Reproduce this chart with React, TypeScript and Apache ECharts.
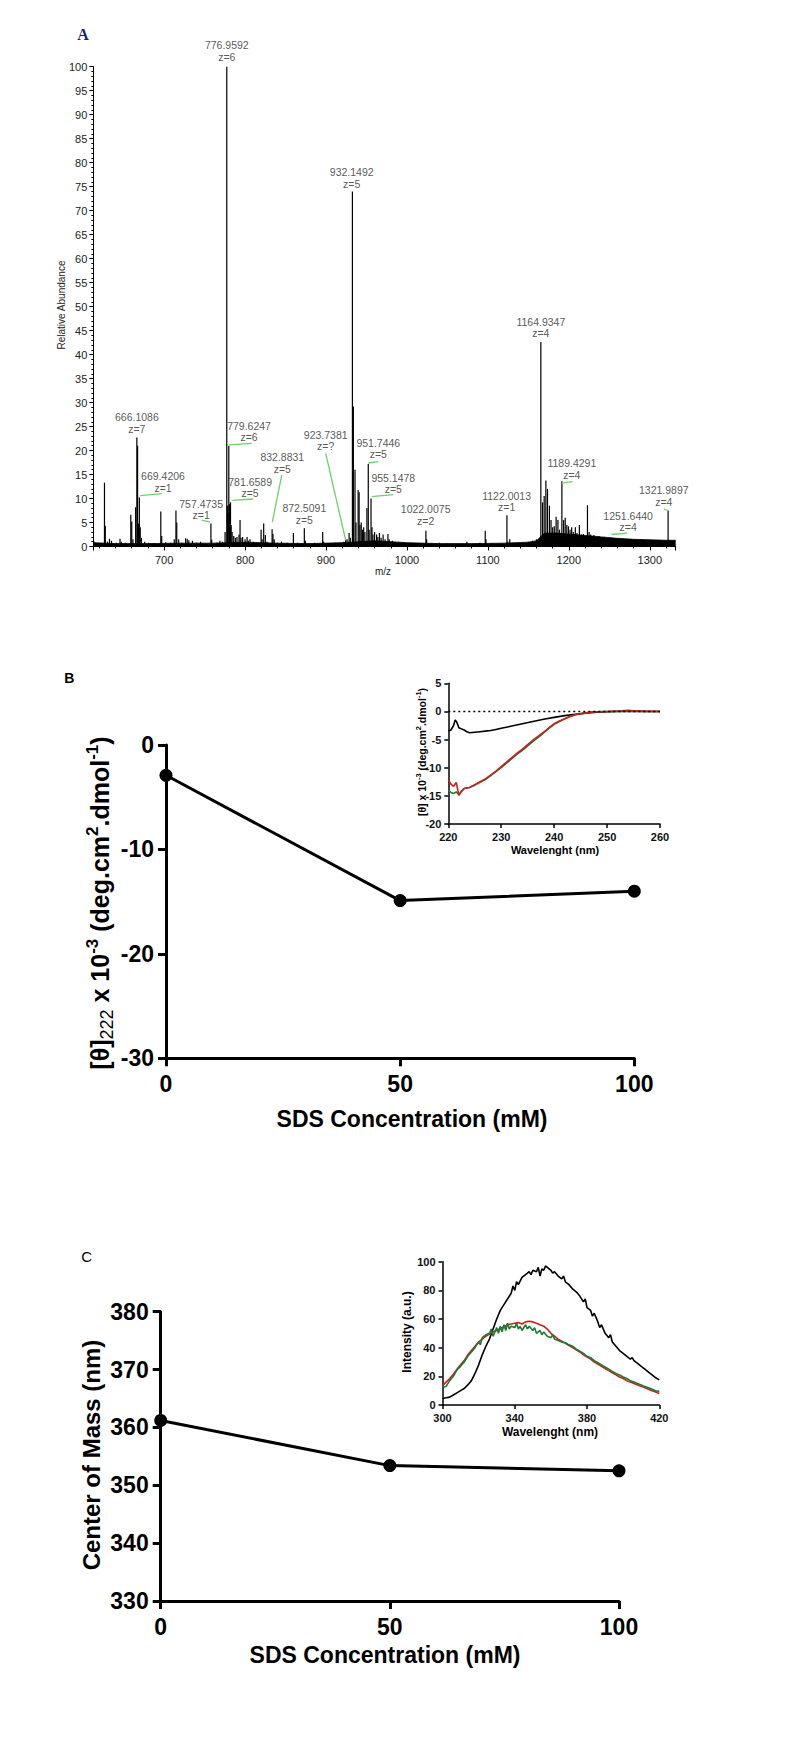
import React, { useEffect, useRef } from "react";
import * as echarts from "echarts";

const FONT = '"Liberation Sans", Arial, sans-serif';

// ---------- Panel A : mass spectrum ----------
const msPeaks: [number, number][] = [
  [613, 1.2], [615, 0.8], [626.3, 13.3], [627.3, 4.3], [630, 1.0], [632.5, 1.6], [635, 1.2], [641, 0.8],
  [645.5, 1.6], [647, 1.0], [652, 0.8], [658.8, 6.6], [660, 5.2], [661.5, 1.5], [664.8, 8.2], [666.3, 22.7],
  [667.2, 21.0], [668.2, 4.8], [669.4, 10.2], [670.5, 4.0], [672, 1.8], [676, 1.0], [681, 0.8], [688, 0.7],
  [695.9, 7.3], [697, 2.2], [702, 0.9], [708, 0.8], [712.5, 1.5], [714.6, 7.5], [715.6, 5.0], [718, 1.5],
  [722, 0.8], [726.5, 1.7], [728.5, 1.6], [730.5, 1.3], [735, 1.2], [740, 0.8], [745, 1.0], [748, 0.7],
  [757.8, 4.8], [758.8, 1.4], [765, 0.8], [769, 1.2], [772, 1.0], [775.3, 3.0], [777.4, 100], [778.3, 8.5],
  [778.9, 7.0], [779.9, 21.0], [780.6, 8.8], [781.3, 8.0], [782.0, 9.2], [782.8, 4.5], [784, 3.0], [786, 2.2],
  [788, 1.8], [790, 2.0], [792.5, 2.5], [793.8, 5.5], [795, 1.8], [797, 2.0], [800, 1.5], [802.5, 2.0],
  [804, 1.2], [806, 1.5], [810, 1.0], [815, 0.8], [819.8, 3.5], [821, 1.5], [823, 4.8], [825, 2.4],
  [827, 1.0], [833.4, 3.6], [834.5, 2.6], [836, 1.5], [840, 0.8], [845, 1.0], [848, 0.7], [852, 0.8],
  [859.7, 2.8], [865, 0.8], [873.2, 3.8], [874.5, 1.2], [880, 0.7], [886, 0.8], [895.9, 3.0], [897, 1.0],
  [905, 0.6], [912, 0.8], [918, 0.8], [922, 1.0], [924.2, 1.4], [926, 1.5], [928.5, 2.8], [930, 1.8],
  [932.6, 74], [933.8, 29.2], [935.8, 16], [937, 5.0], [939.7, 11.8], [940.9, 11.3], [942, 4.5], [943.5, 5.0],
  [945, 3.5], [946.5, 4.0], [948, 3.0], [950.5, 8.0], [952.2, 17.2], [953.3, 3.5], [955.6, 10.0], [956.8, 4.0],
  [958, 2.5], [960, 3.0], [962.5, 2.5], [964, 2.0], [966, 2.8], [968, 1.8], [970.5, 2.5], [973, 1.5],
  [976.5, 2.6], [978, 1.5], [982, 1.2], [986, 0.8], [990, 0.9], [995, 0.8], [1000, 0.7], [1005, 0.6],
  [1012, 0.7], [1023.4, 3.3], [1024.3, 1.5], [1030, 0.6], [1040, 0.8], [1050, 0.6], [1060, 0.5], [1074, 1.0],
  [1085, 0.6], [1090, 0.8], [1096.7, 3.3], [1097.6, 1.5], [1105, 0.7], [1112, 0.6], [1123.5, 6.5], [1124.4, 1.0],
  [1127, 1.5], [1135, 0.8], [1142, 0.8], [1150, 1.0], [1155, 1.2], [1160, 1.5], [1165.4, 42.6], [1167.5, 9.2],
  [1169.5, 10.5], [1171.6, 13.75], [1173.6, 12.0], [1176, 8.5], [1178, 5.5], [1180, 4.0], [1182, 4.2], [1184.3, 6.2],
  [1186.5, 5.5], [1188.5, 3.5], [1191.4, 13.6], [1193.5, 5.5], [1195.5, 6.0], [1197.5, 4.5], [1199.5, 4.2], [1201.5, 3.5],
  [1203.5, 4.0], [1205.5, 3.0], [1208, 4.0], [1210, 2.8], [1213, 4.5], [1215.5, 2.5], [1218, 2.6], [1220.5, 2.2],
  [1223, 8.6], [1225, 3.0], [1227, 2.5], [1229, 2.2], [1231, 2.4], [1234, 2.0], [1237, 2.2], [1240, 1.9],
  [1244, 2.0], [1248, 1.7], [1252, 1.8], [1256, 1.6], [1260, 1.7], [1264, 1.5], [1268, 1.6], [1272, 1.4],
  [1276, 1.5], [1280, 1.4], [1284, 1.3], [1288, 1.4], [1292, 1.2], [1296, 1.3], [1300, 1.2], [1305, 1.2],
  [1310, 1.3], [1315, 1.1], [1322.6, 7.5], [1324, 1.3], [1327, 1.2], [1330, 1.1],
];

const msBaseline: [number, number][] = [
  [612.5, 0.8], [640, 0.6], [680, 0.6], [720, 0.7], [760, 0.7], [800, 0.9], [840, 0.7], [880, 0.6],
  [920, 0.8], [960, 1.2], [1000, 0.8], [1040, 0.6], [1080, 0.6], [1120, 0.7], [1150, 0.9], [1160, 1.2],
  [1170, 2.8], [1185, 2.8], [1200, 2.6], [1220, 2.3], [1240, 2.0], [1260, 1.7], [1280, 1.5], [1300, 1.4],
  [1320, 1.3], [1332, 1.3],
];

// [m/z anchor, intensity anchor (bottom of label), mass text, charge text]
const msLabels: [number, number, string, string][] = [
  [777.4, 100.7, "776.9592", "z=6"],
  [931.7, 74.2, "932.1492", "z=5"],
  [666.3, 23.1, "666.1086", "z=7"],
  [698.6, 10.8, "669.4206", "z=1"],
  [745.7, 5.1, "757.4735", "z=1"],
  [804.9, 21.4, "779.6247", "z=6"],
  [806.2, 9.7, "781.6589", "z=5"],
  [846.0, 14.8, "832.8831", "z=5"],
  [873.2, 4.2, "872.5091", "z=5"],
  [899.6, 19.5, "923.7381", "z=?"],
  [964.6, 17.8, "951.7446", "z=5"],
  [983.1, 10.5, "955.1478", "z=5"],
  [1023.1, 4.0, "1022.0075", "z=2"],
  [1123.1, 6.8, "1122.0013", "z=1"],
  [1165.4, 43.0, "1164.9347", "z=4"],
  [1203.7, 13.5, "1189.4291", "z=4"],
  [1273.2, 2.6, "1251.6440", "z=4"],
  [1317.3, 7.9, "1321.9897", "z=4"],
];

// green leader lines [mz1, i1, mz2, i2]
const msLeaders: [number, number, number, number][] = [
  [670.4, 10.6, 697.2, 11.0],
  [746.5, 5.5, 756.8, 5.1],
  [780.2, 21.2, 808.3, 21.5],
  [784.3, 9.6, 810.2, 9.9],
  [845.3, 14.9, 833.7, 5.1],
  [899.6, 19.4, 924.3, 1.3],
  [952.2, 17.4, 964.6, 17.7],
  [956.4, 10.4, 983.1, 10.8],
  [1191.0, 13.2, 1204.6, 13.5],
  [1252.7, 2.5, 1272.0, 2.8],
  [1317.7, 7.85, 1321.9, 7.5],
];

// ---------- Panel B ----------
const sdsConc = [0, 50, 100];
const theta222 = [-2.9, -14.9, -14.0];

const cdBlack: [number, number][] = [
  [220, -3.5], [220.5, -3.3], [221, -2.5], [221.3, -1.5], [221.6, -1.9], [222, -2.9], [222.5, -3.1], [223, -3.3],
  [223.5, -3.6], [224, -3.8], [225, -3.7], [226, -3.6], [227, -3.5], [228, -3.4], [229, -3.2], [230, -3.0],
  [232, -2.6], [234, -2.2], [236, -1.8], [238, -1.4], [240, -1.05], [242, -0.75], [244, -0.5], [246, -0.3],
  [248, -0.15], [250, -0.05], [252, 0], [256, 0], [260, 0],
];
const cdRed: [number, number][] = [
  [220, -12.1], [220.5, -12.9], [221, -13.3], [221.5, -12.6], [222, -14.9], [222.5, -14.2], [223, -13.7], [224, -13.5],
  [225, -13.0], [226, -12.5], [227, -12.0], [228, -11.3], [229, -10.6], [230, -9.8], [231, -9.0], [232, -8.2],
  [233, -7.4], [234, -6.7], [235, -5.9], [236, -5.1], [237, -4.4], [238, -3.7], [239, -2.9], [240, -2.2],
  [241, -1.7], [242, -1.3], [243, -0.9], [244, -0.6], [245, -0.4], [246, -0.25], [247, -0.15], [248, -0.05],
  [250, 0], [255, 0.1], [260, 0],
];
const cdGreen: [number, number][] = [
  [220, -14.0], [220.5, -14.4], [221, -14.6], [221.5, -14.3], [222, -14.8], [222.5, -14.1], [223, -13.7], [224, -13.5],
  [225, -13.1], [226, -12.6], [227, -12.1], [228, -11.4], [229, -10.7], [230, -10.0], [231, -9.2], [232, -8.4],
  [233, -7.6], [234, -6.9], [235, -6.1], [236, -5.3], [237, -4.6], [238, -3.8], [239, -3.0], [240, -2.3],
  [241, -1.8], [242, -1.3], [243, -0.9], [244, -0.6], [245, -0.4], [246, -0.25], [247, -0.12], [248, -0.05],
  [250, 0], [252, 0.05], [254, 0.2], [255, 0.1], [257, 0], [260, 0],
];

// ---------- Panel C ----------
const centerOfMass = [361.2, 353.4, 352.5];

const flBlack: [number, number][] = [
  [300, 4.5], [302, 5], [304, 5.5], [306, 7], [308, 8.5], [310, 10], [312, 11.5], [314, 14], [316, 17], [318, 22],
  [320, 28], [322, 35], [324, 41], [326, 46], [328, 53], [330, 60], [332, 66], [334, 70], [336, 74], [338, 78],
  [339, 83], [340, 80], [341, 86], [342, 84], [344, 89], [346, 91], [348, 93], [349, 91], [350, 94], [352, 93],
  [353, 96], [354, 90], [355, 95], [356, 94], [357, 97], [358, 96], [360, 94], [361, 92], [362, 93], [364, 90],
  [366, 88], [367, 90], [368, 86], [370, 84], [372, 81], [374, 79], [376, 76], [378, 72], [379, 74], [380, 68],
  [382, 66], [383, 62], [384, 64], [386, 58], [387, 54], [388, 56], [390, 50], [392, 47], [393, 49], [394, 44],
  [396, 41], [398, 38], [400, 36], [402, 34], [404, 32], [405, 33], [406, 31], [408, 29], [410, 27], [412, 25],
  [414, 23], [416, 21], [418, 19], [420, 17.5],
];
const flRed: [number, number][] = [
  [300, 13.5], [302, 16], [304, 18.5], [306, 21.5], [308, 25], [310, 28], [312, 31], [314, 35], [316, 38], [318, 41],
  [320, 44], [322, 46], [324, 48], [326, 49.5], [328, 51], [330, 52], [332, 53.5], [334, 54.5], [336, 56], [338, 56.5],
  [340, 57], [342, 57.5], [344, 56.5], [346, 58], [348, 58.5], [350, 58], [352, 57], [354, 56], [356, 55], [358, 53],
  [360, 50], [362, 48], [364, 46], [366, 44.5], [368, 43], [370, 41.5], [372, 40], [374, 38.5], [376, 37], [378, 35],
  [380, 33.5], [382, 32], [384, 30], [386, 28.5], [388, 27], [390, 25.5], [392, 24], [394, 22.5], [396, 21], [398, 19.5],
  [400, 18.5], [402, 17], [404, 16], [406, 15], [408, 14], [410, 13], [412, 12], [414, 11], [416, 10], [418, 9], [420, 8],
];
const flGreen: [number, number][] = [
  [300, 13], [301, 12.5], [302, 13], [304, 17], [306, 20], [308, 24.5], [310, 27], [312, 30], [314, 34], [316, 37],
  [318, 40], [320, 44], [321, 42], [322, 47], [324, 49], [326, 50], [327, 53], [328, 48], [330, 54], [331, 50],
  [332, 55], [333, 51], [334, 56], [335, 52], [336, 57], [337, 53], [338, 55], [340, 54], [341, 57], [342, 53],
  [343, 55], [344, 52], [346, 56], [347, 53], [348, 55], [350, 52], [351, 54], [352, 50], [354, 52], [355, 49],
  [356, 51], [358, 48], [360, 47], [361, 49], [362, 46], [364, 45], [366, 44], [368, 43.5], [370, 42], [372, 41],
  [374, 39], [376, 37.5], [378, 36], [380, 34], [382, 33], [384, 31], [386, 29.5], [388, 28], [390, 26.5], [392, 25],
  [394, 23.5], [396, 22], [398, 21], [400, 19.5], [402, 18.5], [404, 17], [406, 16], [408, 15], [410, 14], [412, 13],
  [414, 12], [416, 11], [418, 10], [420, 9.5],
];

function bigAxisX(gridIndex: number) {
  return {
    type: "value", gridIndex, min: 0, max: 100, interval: 50,
    axisLine: { onZero: false, lineStyle: { color: "#000", width: 3 } },
    axisTick: { length: 8, lineStyle: { color: "#000", width: 3 } },
    axisLabel: { color: "#000", fontSize: 23, fontWeight: "bold", fontFamily: FONT, margin: 14 },
    splitLine: { show: false },
  };
}
function bigAxisY(gridIndex: number, min: number, max: number, interval: number) {
  return {
    type: "value", gridIndex, min, max, interval,
    axisLine: { onZero: false, lineStyle: { color: "#000", width: 3 } },
    axisTick: { length: 8, lineStyle: { color: "#000", width: 3 } },
    axisLabel: { color: "#000", fontSize: 23, fontWeight: "bold", fontFamily: FONT, margin: 12 },
    splitLine: { show: false },
  };
}
function smallAxis(gridIndex: number, min: number, max: number, interval: number, fs: number) {
  return {
    type: "value", gridIndex, min, max, interval,
    axisLine: { onZero: false, lineStyle: { color: "#000", width: 1.5 } },
    axisTick: { length: 4, lineStyle: { color: "#000", width: 1.5 } },
    axisLabel: { color: "#111", fontSize: fs, fontWeight: "bold", fontFamily: FONT, margin: 7 },
    splitLine: { show: false },
  };
}

export default function App() {
  const ref = useRef<HTMLDivElement>(null);
  useEffect(() => {
    if (!ref.current) return;
    const chart = echarts.init(ref.current, undefined, { renderer: "svg" });

    const stick = (params: any, api: any) => {
      const top = api.coord([api.value(0), api.value(1)]);
      const base = api.coord([api.value(0), 0]);
      return {
        type: "line",
        shape: { x1: top[0], y1: top[1], x2: base[0], y2: base[1] },
        style: { stroke: "#000", lineWidth: 1.2 },
      };
    };
    const leader = (params: any, api: any) => {
      const a = api.coord([api.value(0), api.value(1)]);
      const b = api.coord([api.value(2), api.value(3)]);
      return {
        type: "line",
        shape: { x1: a[0], y1: a[1], x2: b[0], y2: b[1] },
        style: { stroke: "#6fcf6f", lineWidth: 1.3 },
      };
    };

    const richBig = {
      m: { fontSize: 25, fontWeight: "bold", fontFamily: FONT, lineHeight: 32, verticalAlign: "middle" },
      sub: { fontSize: 18, fontFamily: FONT, lineHeight: 18, verticalAlign: "bottom" },
      sup: { fontSize: 17, fontWeight: "bold", fontFamily: FONT, lineHeight: 17, verticalAlign: "top" },
    };
    const richSmall = {
      m: { fontSize: 10.5, fontWeight: "bold", fontFamily: FONT, lineHeight: 14, verticalAlign: "middle" },
      sup: { fontSize: 7.5, fontWeight: "bold", fontFamily: FONT, lineHeight: 8, verticalAlign: "top" },
    };

    const option: any = {
      animation: false,
      backgroundColor: "#fff",
      grid: [
        { left: 93.3, top: 66.7, width: 582.4, height: 479.8 },
        { left: 166, top: 745, width: 468.3, height: 313.3 },
        { left: 448.3, top: 683.3, width: 211.7, height: 140.7 },
        { left: 160.7, top: 1311.7, width: 458.3, height: 289.3 },
        { left: 442.5, top: 1261.7, width: 216.8, height: 143.3 },
      ],
      xAxis: [
        {
          type: "value", gridIndex: 0, min: 612.5, max: 1332, splitNumber: 7,
          axisLine: { onZero: false, lineStyle: { color: "#000", width: 1 } },
          axisTick: { length: 4, lineStyle: { color: "#000" } },
          minorTick: { show: true, splitNumber: 5, length: 2, lineStyle: { color: "#000" } },
          axisLabel: {
            color: "#222", fontSize: 11, fontFamily: FONT, margin: 8,
            formatter: (v: number) => (v % 100 === 0 ? String(v) : ""),
          },
          splitLine: { show: false },
        },
        bigAxisX(1),
        smallAxis(2, 220, 260, 10, 11),
        bigAxisX(3),
        smallAxis(4, 300, 420, 40, 11),
      ],
      yAxis: [
        {
          type: "value", gridIndex: 0, min: 0, max: 100, interval: 5,
          axisLine: { onZero: false, lineStyle: { color: "#000", width: 1 } },
          axisTick: { length: 4, lineStyle: { color: "#000" } },
          minorTick: { show: true, splitNumber: 5, length: 2, lineStyle: { color: "#000" } },
          axisLabel: { color: "#222", fontSize: 11, fontFamily: FONT, margin: 6 },
          splitLine: { show: false },
        },
        bigAxisY(1, -30, 0, 10),
        smallAxis(2, -20, 5, 5, 11),
        bigAxisY(3, 330, 380, 10),
        smallAxis(4, 0, 100, 20, 11),
      ],
      series: [
        {
          type: "line", xAxisIndex: 0, yAxisIndex: 0, data: msBaseline, symbol: "none", silent: true,
          lineStyle: { color: "#000", width: 0.8 }, areaStyle: { color: "#000", opacity: 1 }, z: 2,
        },
        {
          type: "custom", xAxisIndex: 0, yAxisIndex: 0, data: msPeaks, renderItem: stick,
          encode: { x: 0, y: 1 }, silent: true, z: 3,
        },
        {
          type: "custom", xAxisIndex: 0, yAxisIndex: 0, data: msLeaders, renderItem: leader,
          encode: { x: [0, 2], y: [1, 3] }, silent: true, z: 4,
        },
        {
          type: "scatter", xAxisIndex: 0, yAxisIndex: 0, data: msLabels, symbolSize: 0.1, clip: false,
          itemStyle: { color: "rgba(0,0,0,0)" }, silent: true, z: 5,
          encode: { x: 0, y: 1 },
          label: {
            show: true, position: "top", distance: 1, color: "#2a2a2a", fontSize: 10.5,
            fontFamily: FONT, lineHeight: 11.5, align: "center",
            formatter: (p: any) => p.value[2] + "\n" + p.value[3],
          },
        },
        {
          type: "line", xAxisIndex: 1, yAxisIndex: 1, clip: false,
          data: sdsConc.map((c, i) => [c, theta222[i]]),
          symbol: "circle", symbolSize: 13, itemStyle: { color: "#000" },
          lineStyle: { color: "#000", width: 3 }, silent: true,
        },
        {
          type: "line", xAxisIndex: 2, yAxisIndex: 2, data: cdBlack, symbol: "none", silent: true,
          lineStyle: { color: "#000", width: 1.6 },
          markLine: {
            silent: true, symbol: "none", label: { show: false },
            lineStyle: { color: "#000", type: [2, 3], width: 1.3 },
            data: [{ yAxis: 0 }],
          },
        },
        {
          type: "line", xAxisIndex: 2, yAxisIndex: 2, data: cdGreen, symbol: "none", silent: true,
          lineStyle: { color: "#1b7a35", width: 1.6 },
        },
        {
          type: "line", xAxisIndex: 2, yAxisIndex: 2, data: cdRed, symbol: "none", silent: true,
          lineStyle: { color: "#c8201e", width: 1.6 },
        },
        {
          type: "line", xAxisIndex: 3, yAxisIndex: 3, clip: false,
          data: sdsConc.map((c, i) => [c, centerOfMass[i]]),
          symbol: "circle", symbolSize: 13, itemStyle: { color: "#000" },
          lineStyle: { color: "#000", width: 3 }, silent: true,
        },
        {
          type: "line", xAxisIndex: 4, yAxisIndex: 4, data: flBlack, symbol: "none", silent: true,
          lineStyle: { color: "#000", width: 1.6 },
        },
        {
          type: "line", xAxisIndex: 4, yAxisIndex: 4, data: flRed, symbol: "none", silent: true,
          lineStyle: { color: "#c8201e", width: 1.6 },
        },
        {
          type: "line", xAxisIndex: 4, yAxisIndex: 4, data: flGreen, symbol: "none", silent: true,
          lineStyle: { color: "#1b7a35", width: 1.6 },
        },
      ],
      graphic: [
        {
          type: "text", x: 83, y: 34, silent: true,
          style: { text: "A", fill: "#1f1f6b", font: 'bold 16px "Liberation Serif", serif', align: "center", verticalAlign: "middle" },
        },
        {
          type: "text", x: 61.7, y: 305, rotation: Math.PI / 2, silent: true,
          style: { text: "Relative Abundance", fill: "#222", font: `10px ${FONT}`, align: "center", verticalAlign: "middle" },
        },
        {
          type: "text", x: 383, y: 571.7, silent: true,
          style: { text: "m/z", fill: "#222", font: `10px ${FONT}`, align: "center", verticalAlign: "middle" },
        },
        {
          type: "text", x: 69.3, y: 678.3, silent: true,
          style: { text: "B", fill: "#000", font: `bold 14px ${FONT}`, align: "center", verticalAlign: "middle" },
        },
        {
          type: "text", x: 100, y: 903, rotation: Math.PI / 2, silent: true,
          style: {
            text: "{m|[θ]}{sub|222}{m| x 10}{sup|-3}{m| (deg.cm}{sup|2}{m|.dmol}{sup|-1}{m|)}",
            rich: richBig, fill: "#000", align: "center", verticalAlign: "middle",
          },
        },
        {
          type: "text", x: 412, y: 1119, silent: true,
          style: { text: "SDS Concentration (mM)", fill: "#000", font: `bold 23px ${FONT}`, align: "center", verticalAlign: "middle" },
        },
        {
          type: "text", x: 421.7, y: 752, rotation: Math.PI / 2, silent: true,
          style: {
            text: "{m|[θ] x 10}{sup|-3}{m| (deg.cm}{sup|2}{m|.dmol}{sup|-1}{m|)}",
            rich: richSmall, fill: "#000", align: "center", verticalAlign: "middle",
          },
        },
        {
          type: "text", x: 555, y: 849.5, silent: true,
          style: { text: "Wavelenght (nm)", fill: "#000", font: `bold 11px ${FONT}`, align: "center", verticalAlign: "middle" },
        },
        {
          type: "text", x: 86.7, y: 1256.7, silent: true,
          style: { text: "C", fill: "#000", font: `15px ${FONT}`, align: "center", verticalAlign: "middle" },
        },
        {
          type: "text", x: 91.7, y: 1455, rotation: Math.PI / 2, silent: true,
          style: { text: "Center of Mass (nm)", fill: "#000", font: `bold 24px ${FONT}`, align: "center", verticalAlign: "middle" },
        },
        {
          type: "text", x: 385, y: 1655, silent: true,
          style: { text: "SDS Concentration (mM)", fill: "#000", font: `bold 23px ${FONT}`, align: "center", verticalAlign: "middle" },
        },
        {
          type: "text", x: 406.7, y: 1332, rotation: Math.PI / 2, silent: true,
          style: { text: "Intensity (a.u.)", fill: "#000", font: `bold 12px ${FONT}`, align: "center", verticalAlign: "middle" },
        },
        {
          type: "text", x: 550, y: 1431.7, silent: true,
          style: { text: "Wavelenght (nm)", fill: "#000", font: `bold 12px ${FONT}`, align: "center", verticalAlign: "middle" },
        },
      ],
    };
    chart.setOption(option);
    return () => chart.dispose();
  }, []);

  return (
    <div
      ref={ref}
      style={{ position: "absolute", left: 0, top: 0, width: 800, height: 1761, background: "#fff" }}
    />
  );
}
